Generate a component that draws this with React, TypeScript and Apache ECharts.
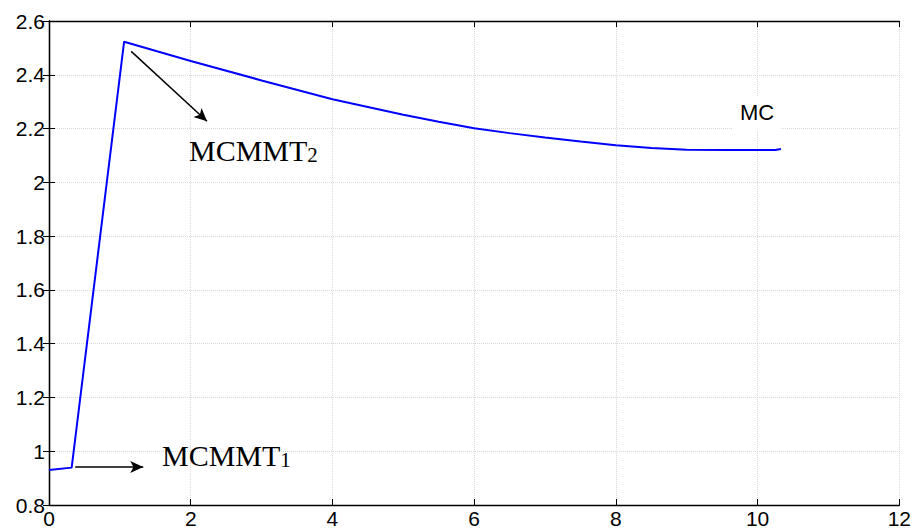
import React, { useEffect, useRef } from "react";
import * as echarts from "echarts";

const xValues = [0, 0.32, 1.06, 2, 3, 4, 5, 5.5, 6, 6.5, 7, 7.5, 8, 8.5, 9, 9.6, 10.25, 10.33];
const yValues = [0.93, 0.939, 2.523, 2.451, 2.379, 2.309, 2.251, 2.225, 2.201, 2.183, 2.167, 2.152, 2.138, 2.128, 2.121, 2.12, 2.12, 2.124];
const xTicks = [0, 2, 4, 6, 8, 10, 12];
const yTicks = [0.8, 1, 1.2, 1.4, 1.6, 1.8, 2, 2.2, 2.4, 2.6];
const arrow1 = [[0.37, 0.941], [1.33, 0.941]];
const arrow2 = [[1.16, 2.487], [2.23, 2.227]];

export default function App() {
  const ref = useRef<HTMLDivElement>(null);
  useEffect(() => {
    if (!ref.current) return;
    const chart = echarts.init(ref.current, null, { renderer: "svg" });
    const fmt = (v: number) => String(+Number(v).toFixed(1));
    const axisLine = { show: true, lineStyle: { color: "#000", width: 1.3 } };
    const tick = { show: true, inside: true, length: 6, lineStyle: { color: "#000", width: 1 } };
    const split = { show: true, lineStyle: { color: "#d8d8d8", type: "dotted" as const, width: 1 } };
    const labelStyle = { color: "#000", fontSize: 21, fontFamily: "Liberation Sans" };
    const data = xValues.map((x, i) => [x, yValues[i]]);
    const serif = "Liberation Serif";
    const rich = {
      m: { fontFamily: serif, fontSize: 30, lineHeight: 30, fill: "#000", verticalAlign: "bottom" },
      s: { fontFamily: serif, fontSize: 21, lineHeight: 22, fill: "#000", verticalAlign: "bottom" },
    };
    chart.setOption({
      animation: false,
      backgroundColor: "#fff",
      grid: { left: 49, right: 14, top: 21, bottom: 24, containLabel: false },
      xAxis: [
        {
          type: "value", min: xTicks[0], max: xTicks[xTicks.length - 1], interval: 2,
          axisLine, axisTick: tick, splitLine: split,
          axisLabel: { ...labelStyle, margin: 3, formatter: fmt },
        },
        {
          type: "value", position: "top", min: xTicks[0], max: xTicks[xTicks.length - 1], interval: 2,
          axisLine, axisTick: tick, splitLine: { show: false }, axisLabel: { show: false },
        },
      ],
      yAxis: [
        {
          type: "value", min: yTicks[0], max: yTicks[yTicks.length - 1], interval: 0.2,
          axisLine, axisTick: tick, splitLine: split,
          axisLabel: { ...labelStyle, margin: 4, formatter: fmt },
        },
        {
          type: "value", position: "right", min: yTicks[0], max: yTicks[yTicks.length - 1], interval: 0.2,
          axisLine, axisTick: tick, splitLine: { show: false }, axisLabel: { show: false },
        },
      ],
      series: [
        {
          type: "line",
          data,
          showSymbol: false,
          symbol: "none",
          lineStyle: { color: "#0000ff", width: 2 },
          itemStyle: { color: "#0000ff" },
          markLine: {
            silent: true,
            symbol: ["none", "arrow"],
            symbolSize: [9, 13],
            label: { show: false },
            lineStyle: { color: "#000", width: 1.5, type: "solid" },
            data: [
              [{ coord: arrow1[0] }, { coord: arrow1[1] }],
              [{ coord: arrow2[0] }, { coord: arrow2[1] }],
            ],
          },
        },
      ],
      graphic: [
        {
          type: "text", left: 162, top: 440, z: 10,
          style: { text: "{m|MCMMT}{s|1}", rich },
        },
        {
          type: "text", left: 189, top: 135, z: 10,
          style: { text: "{m|MCMMT}{s|2}", rich },
        },
        {
          type: "text", left: 733, top: 96, z: 10,
          style: {
            text: "MC",
            fontFamily: "Liberation Sans", fontSize: 22, fill: "#000",
            backgroundColor: "#fff", padding: [5, 7, 7, 7],
          },
        },
      ],
    });
    return () => chart.dispose();
  }, []);
  return <div ref={ref} style={{ width: 914, height: 529, position: "absolute", left: 0, top: 0 }} />;
}
